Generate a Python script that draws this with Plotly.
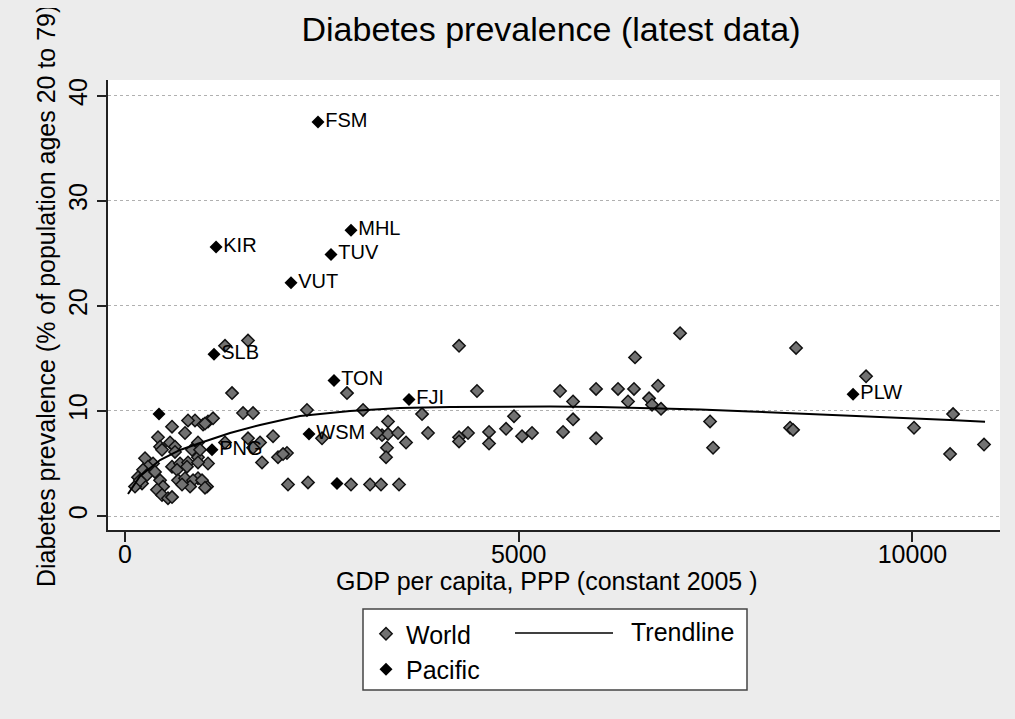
import plotly.graph_objects as go

# ---------------- data ----------------
world_gdp = [1270, 1562, 1359, 4242, 4470, 3772, 3340, 3264, 3340, 3467, 3569, 3327, 3315,
             3848, 4242, 4242, 4356, 4623, 4623, 4839, 4940, 5042, 5169, 5525, 5690, 5690,
             5563, 5982, 5982, 6261, 6464, 6388, 6477, 6769, 6655, 6693, 6807, 7049, 8522,
             9411, 7430, 7468, 8446, 8484, 10020, 10516, 10478, 10909,
             2070, 2324, 2870, 3112, 3251, 3480, 2311, 2819, 3023, 2502,
             1499, 1626, 1880, 1562, 1715, 1626, 1740, 1943, 2057, 2007, 1270,
             927, 927, 927, 1054, 927, 1041, 991, 889, 1054, 1118, 800, 1016,
             597, 762, 419, 572, 635, 445, 470, 635, 851, 953, 254, 356, 292, 229,
             165, 216, 597, 699, 800, 927, 660, 787, 279, 381, 445, 483, 406, 470,
             546, 597, 673, 762, 864, 978, 826, 724, 1016, 127, 190, 3200]
world_prev = [16.2, 16.7, 11.7, 16.2, 11.9, 9.7, 9.0, 7.7, 7.8, 7.9, 7.0, 6.5, 5.6,
              7.9, 7.5, 7.1, 7.9, 8.0, 6.9, 8.3, 9.5, 7.6, 7.9, 11.9, 10.9, 9.2,
              8.0, 12.1, 7.4, 12.1, 12.1, 10.9, 15.1, 12.4, 11.2, 10.6, 10.2, 17.4, 16.0,
              13.3, 9.0, 6.5, 8.4, 8.2, 8.4, 9.7, 5.9, 6.8,
              3.0, 3.2, 3.0, 3.0, 3.0, 3.0, 10.1, 11.7, 10.1, 7.4,
              9.8, 9.8, 7.6, 7.4, 7.0, 6.5, 5.1, 5.6, 6.0, 5.9, 7.0,
              7.0, 6.3, 5.6, 5.0, 3.6, 2.8, 8.7, 9.1, 9.0, 9.3, 9.1, 8.8,
              8.5, 7.9, 7.5, 7.0, 6.6, 6.6, 6.3, 6.1, 6.3, 6.3, 5.5, 5.0, 4.7, 4.4,
              3.7, 3.1, 4.7, 5.0, 5.1, 5.1, 4.4, 4.7, 3.9, 4.2, 3.4, 2.8, 2.5, 2.0,
              1.7, 1.8, 3.4, 3.6, 3.4, 3.4, 2.8, 3.0, 2.7, 2.8, 3.4, 7.9]

pacific_codes = ["FSM", "MHL", "KIR", "TUV", "VUT", "SLB", "TON", "FJI", "PLW", "WSM", "PNG", "", ""]
pacific_gdp = [2451, 2870, 1156, 2616, 2108, 1130, 2654, 3607, 9246, 2337, 1105, 432, 2692]
pacific_prev = [37.5, 27.2, 25.6, 24.9, 22.2, 15.4, 12.9, 11.1, 11.6, 7.8, 6.3, 9.7, 3.1]

trend_gdp = [38, 190, 445, 699, 953, 1334, 1715, 2223, 2858, 3493, 4128, 4763, 5398,
             6033, 6668, 7303, 7938, 8573, 9208, 9843, 10478, 10922]
trend_prev = [2.1, 3.8, 5.33, 6.29, 6.95, 7.9, 8.67, 9.52, 10.0, 10.29, 10.38, 10.43, 10.43,
              10.38, 10.29, 10.14, 9.95, 9.76, 9.57, 9.38, 9.14, 8.98]

x_ticks = [0, 5000, 10000]
x_ticklabels = ["0", "5000", "10000"]
y_ticks = [0, 10, 20, 30, 40]
y_ticklabels = ["0", "10", "20", "30", "40"]

title_text = "Diabetes prevalence (latest data)"
x_title = "GDP per capita, PPP (constant 2005 )"
y_title = "Diabetes prevalence (% of population ages 20 to 79)"

# ---------------- layout helpers ----------------
PAGE_W, PAGE_H = 1015, 719
OFF = 8                       # default body margin of the html page
W, H = PAGE_W - OFF, PAGE_H - OFF
L, R, T, B = 108, 1000, 80, 530   # plot area in page pixels
FONT = "Liberation Sans, Arial, Helvetica, sans-serif"
PAPER = "#ececec"


def px(xp):
    return (xp - L) / (R - L)


def py(yp):
    return (B - yp) / (B - T)


fig = go.Figure()
fig.add_trace(go.Scatter(
    x=world_gdp, y=world_prev, mode="markers", name="World",
    marker=dict(symbol="diamond", size=9.5, color="#727272",
                line=dict(color="#111111", width=1.5)),
))
fig.add_trace(go.Scatter(
    x=trend_gdp, y=trend_prev, mode="lines", name="Trendline", showlegend=False,
    line=dict(color="black", width=2),
))
fig.add_trace(go.Scatter(
    x=pacific_gdp, y=pacific_prev, mode="markers+text", name="Pacific",
    text=pacific_codes, textposition="middle right",
    textfont=dict(size=20, color="black", family=FONT),
    marker=dict(symbol="diamond", size=10, color="black"),
))

fig.update_layout(
    width=W, height=H,
    margin=dict(l=L - OFF, r=PAGE_W - R, t=T - OFF, b=PAGE_H - B, autoexpand=False),
    paper_bgcolor=PAPER, plot_bgcolor="white",
    font=dict(family=FONT, size=25, color="black"),
    title=dict(text=title_text, x=(551 - OFF) / W, xanchor="center", xref="container",
               y=1 - (29 - OFF) / H, yanchor="middle", yref="container",
               font=dict(size=34, color="black", family=FONT)),
    showlegend=True,
    legend=dict(x=px(366), y=py(611), xanchor="left", yanchor="top",
                bgcolor="rgba(0,0,0,0)", font=dict(size=25, family=FONT),
                tracegroupgap=0),
    xaxis=dict(range=[-216, 11112], tickvals=x_ticks, ticktext=x_ticklabels,
               ticks="outside", ticklen=10, tickwidth=1.5, tickcolor="#222222",
               ticklabelstandoff=-9,
               showline=True, linecolor="#222222", linewidth=1.5,
               showgrid=False, zeroline=False, automargin=False,
               tickfont=dict(size=25)),
    yaxis=dict(range=[-1.33, 41.5], tickvals=y_ticks, ticktext=y_ticklabels,
               tickangle=-90, ticks="outside", ticklen=9, tickwidth=1.5,
               tickcolor="#222222", showline=True, linecolor="#222222", linewidth=1.5,
               showgrid=True, gridcolor="#b0b0b0", gridwidth=1, griddash="dot",
               zeroline=False, automargin=False, tickfont=dict(size=25)),
)

fig.add_shape(type="rect", xref="paper", yref="paper",
              x0=px(363), x1=px(747), y0=py(609), y1=py(690),
              line=dict(color="#444444", width=1.5), fillcolor="white", layer="below")
fig.add_shape(type="line", xref="paper", yref="paper",
              x0=px(515), x1=px(613), y0=py(633), y1=py(633),
              line=dict(color="black", width=1.5))

fig.add_annotation(text="Trendline", xref="paper", yref="paper",
                   x=px(629), y=py(632), xanchor="left", yanchor="middle",
                   showarrow=False, font=dict(size=25, family=FONT, color="black"))
fig.add_annotation(text=x_title, xref="paper", yref="paper",
                   x=px(547), y=py(581), xanchor="center", yanchor="middle",
                   showarrow=False, font=dict(size=25, family=FONT, color="black"))
fig.add_annotation(text=y_title, xref="paper", yref="paper",
                   x=px(46), y=py(296), xanchor="center", yanchor="middle",
                   textangle=-90, showarrow=False,
                   font=dict(size=25, family=FONT, color="black"))

fig.write_html("out.html",
               post_script="document.body.style.backgroundColor='%s';" % PAPER)
